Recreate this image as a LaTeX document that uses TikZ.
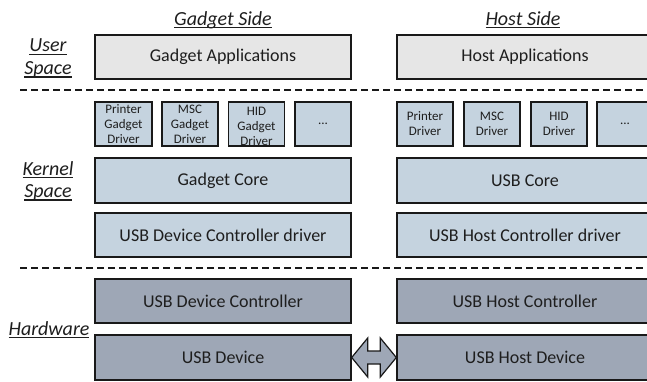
\documentclass[tikz,border=0pt]{standalone}
\usepackage{fontspec}
\setmainfont{Carlito}
\usetikzlibrary{calc}
\definecolor{appfill}{RGB}{230,230,230}
\definecolor{kernfill}{RGB}{197,211,223}
\definecolor{hwfill}{RGB}{158,167,182}
\definecolor{edge}{RGB}{25,25,25}
\definecolor{txt}{RGB}{30,30,30}
\newcommand\ulbox[1]{\setbox0=\hbox{#1}\rlap{\vrule height -1.6pt depth 2.9pt width \wd0}\box0}
\tikzset{
  box/.style={draw=edge, line width=1.4pt, minimum width=256pt, minimum height=44pt,
    inner sep=1pt, text=txt, font=\fontsize{18}{21}\selectfont},
  smallbox/.style={draw=edge, line width=1.4pt, minimum width=56pt, minimum height=44pt,
    inner sep=0pt, text=txt, fill=kernfill, align=center,
    font=\fontsize{13}{15}\selectfont},
  appbox/.style={box, fill=appfill},
  kernbox/.style={box, fill=kernfill},
  hwbox/.style={box, fill=hwfill},
  sidelabel/.style={text=txt, font=\fontsize{20}{23}\selectfont\itshape, align=center, inner sep=0pt},
  sepline/.style={draw=edge, line width=1.6pt, dash pattern=on 7pt off 4pt},
  linkarrow/.style={draw=edge, line width=1.2pt, fill=hwfill, line join=miter}
}
\begin{document}
\begin{tikzpicture}[x=1pt,y=-1pt]
\useasboundingbox (0,0) rectangle (647,381);
% side titles
\node[sidelabel] (gside) at (223,20) {\ulbox{Gadget Side}};
\node[sidelabel] (hside) at (523,20) {\ulbox{Host Side}};
% layer labels
\node[sidelabel] (user) at (48,47) {\ulbox{User}};
\node[sidelabel] (userb) at (48,70) {\ulbox{Space}};
\node[sidelabel] (kern) at (48,170) {\ulbox{Kernel}};
\node[sidelabel] (kernb) at (48,193) {\ulbox{Space}};
\node[sidelabel] (hw) at (49,330) {\ulbox{Hardware}};
% separators
\coordinate (s1a) at (20,90);
\coordinate (s1b) at (647,90);
\coordinate (s2a) at (20,268);
\coordinate (s2b) at (647,268);
\draw[sepline] (s1a) -- (s1b);
\draw[sepline] (s2a) -- (s2b);
% gadget side
\node[appbox] (gapp) at (223,57) {Gadget Applications};
\node[smallbox, minimum width=57pt] (gprn) at (123.5,124) {Printer\\Gadget\\Driver};
\node[smallbox] (gmsc) at (190,124) {MSC\\Gadget\\Driver};
\node[smallbox] (ghid) at (256.5,124) {};
\node[smallbox, draw=none, fill=none, minimum height=0pt] (ghidt) at (256.5,126) {HID\\Gadget\\Driver};
\node[smallbox] (gdots) at (323,124) {...};
\node[kernbox, minimum height=45pt] (gcore) at (223,180.5) {Gadget Core};
\node[kernbox] (gudc) at (223,235) {USB Device Controller driver};
\node[hwbox] (gctl) at (223,301) {USB Device Controller};
\node[hwbox, minimum height=45pt] (gdev) at (223,357.5) {USB Device};
% host side
\node[appbox] (happ) at (525,57) {Host Applications};
\node[smallbox] (hprn) at (425,124) {Printer\\Driver};
\node[smallbox] (hmsc) at (492,124) {MSC\\Driver};
\node[smallbox] (hhid) at (559,124) {HID\\Driver};
\node[smallbox] (hdots) at (625,124) {...};
\node[kernbox, minimum height=45pt] (hcore) at (525,180.5) {USB Core};
\node[kernbox] (hhcd) at (525,235) {USB Host Controller driver};
\node[hwbox] (hctl) at (525,301) {USB Host Controller};
\node[hwbox, minimum height=45pt] (hdev) at (525,357.5) {USB Host Device};
% link arrow
\draw[linkarrow] (gdev.east)
  -- ($(gdev.east)+(16,-19.5)$) -- ($(gdev.east)+(16,-6.5)$)
  -- ($(hdev.west)+(-16,-6.5)$) -- ($(hdev.west)+(-16,-19.5)$)
  -- (hdev.west)
  -- ($(hdev.west)+(-16,19.5)$) -- ($(hdev.west)+(-16,6.5)$)
  -- ($(gdev.east)+(16,6.5)$) -- ($(gdev.east)+(16,19.5)$) -- cycle;
\end{tikzpicture}
\end{document}
